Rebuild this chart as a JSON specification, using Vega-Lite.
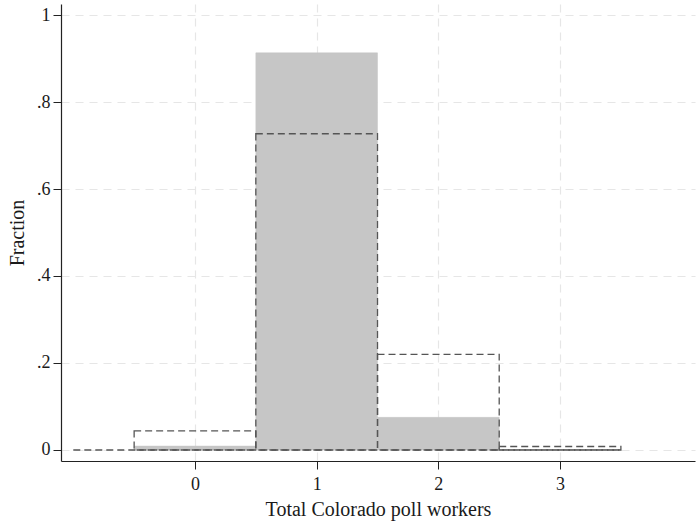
{
  "$schema": "https://vega.github.io/schema/vega-lite/v6.json",
  "width": 634,
  "height": 457,
  "autosize": {"type": "none"},
  "padding": {"left": 61, "top": 4, "right": 3, "bottom": 62},
  "background": "white",
  "config": {
    "view": {"stroke": null},
    "font": "Liberation Serif",
    "axis": {
      "labelFont": "Liberation Serif",
      "titleFont": "Liberation Serif",
      "labelFontSize": 18,
      "titleFontSize": 20,
      "titleFontWeight": "normal",
      "labelColor": "#1a1a1a",
      "titleColor": "#1a1a1a",
      "domainColor": "#222222",
      "tickColor": "#222222",
      "gridColor": "#e6e6e6",
      "gridDash": [8, 6],
      "gridWidth": 1.2
    }
  },
  "datasets": {
    "bars": [
      {"series": "solid", "x0": -0.5, "x1": 0.5, "fraction": 0.009},
      {"series": "solid", "x0": 0.5, "x1": 1.5, "fraction": 0.913},
      {"series": "solid", "x0": 1.5, "x1": 2.5, "fraction": 0.075},
      {"series": "solid", "x0": 2.5, "x1": 3.5, "fraction": 0.001},
      {"series": "dashed", "x0": -0.5, "x1": 0.5, "fraction": 0.044},
      {"series": "dashed", "x0": 0.5, "x1": 1.5, "fraction": 0.727},
      {"series": "dashed", "x0": 1.5, "x1": 2.5, "fraction": 0.22},
      {"series": "dashed", "x0": 2.5, "x1": 3.5, "fraction": 0.008}
    ],
    "baseline": [
      {"x0": -1.0, "x1": 3.5, "fraction": 0}
    ]
  },
  "layer": [
    {
      "data": {"name": "bars"},
      "transform": [{"filter": "datum.series === 'solid'"}],
      "mark": {"type": "rect", "fill": "#c6c6c6", "stroke": "#c6c6c6", "strokeWidth": 0.5},
      "encoding": {
        "x": {
          "field": "x0", "type": "quantitative",
          "scale": {"domain": [-1.101, 4.109], "nice": false, "zero": false},
          "axis": {
            "title": "Total Colorado poll workers",
            "values": [0, 1, 2, 3],
            "format": "d",
            "grid": true,
            "tickSize": 8,
            "labelPadding": 6,
            "titlePadding": 6,
            "domainWidth": 1.2
          }
        },
        "x2": {"field": "x1"},
        "y": {
          "field": "fraction", "type": "quantitative",
          "scale": {"domain": [-0.0253, 1.0253], "nice": false, "zero": false},
          "axis": {
            "title": "Fraction",
            "values": [0, 0.2, 0.4, 0.6, 0.8, 1],
            "labelExpr": "datum.value == 0 ? '0' : datum.value == 1 ? '1' : replace(format(datum.value, '.1f'), '0.', '.')",
            "grid": true,
            "tickSize": 8,
            "labelPadding": 3,
            "titlePadding": 9,
            "domainWidth": 1.2
          }
        },
        "y2": {"datum": 0}
      }
    },
    {
      "data": {"name": "baseline"},
      "mark": {"type": "rule", "stroke": "#555555", "strokeWidth": 1.3, "strokeDash": [7, 4]},
      "encoding": {
        "x": {"field": "x0", "type": "quantitative"},
        "x2": {"field": "x1"},
        "y": {"field": "fraction", "type": "quantitative"}
      }
    },
    {
      "data": {"name": "bars"},
      "transform": [{"filter": "datum.series === 'dashed'"}],
      "mark": {"type": "rect", "fill": null, "fillOpacity": 0, "stroke": "#555555", "strokeWidth": 1.3, "strokeDash": [7, 4]},
      "encoding": {
        "x": {"field": "x0", "type": "quantitative"},
        "x2": {"field": "x1"},
        "y": {"field": "fraction", "type": "quantitative"},
        "y2": {"datum": 0}
      }
    }
  ]
}
